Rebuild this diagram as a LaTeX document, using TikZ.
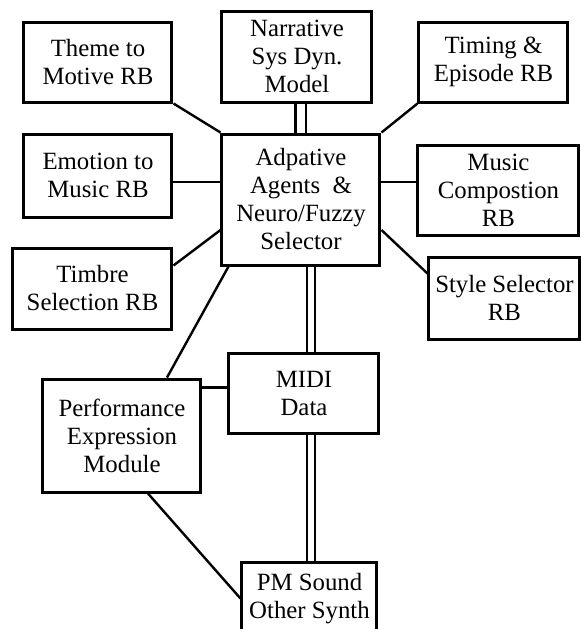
\documentclass[tikz,border=0pt]{standalone}
\usepackage{fontspec}
\setmainfont{Liberation Serif}
\begin{document}
\begin{tikzpicture}[
        x=0.5pt, y=-0.5pt,
        block/.style={rectangle, draw, line width=1.5pt, align=center, inner sep=0pt, font=\fontsize{12.4}{14}\selectfont},
        link/.style={line width=1.2pt},
        bus/.style={double, double distance=2.8pt, line width=1.1pt}
    ]
        \clip (0,0) rectangle (581,629);

        \node[block, minimum width=74pt, minimum height=40pt] (theme) at (98,62) {Theme to\\Motive RB};
        \node[block, minimum width=75pt, minimum height=45.5pt] (narrative) at (297,56.5) {Narrative\\Sys Dyn.\\Model};
        \node[block, minimum width=74.5pt, minimum height=40pt] (timing) at (493.5,62) {Timing \&\\Episode RB};
        \node[block, minimum width=79pt, minimum height=65.5pt] (agents) at (301,199.5) {Adpative\\Agents\ \ \&\\Neuro/Fuzzy\\Selector};
        \node[block, minimum width=74pt, minimum height=41.5pt] (emotion) at (98,175.5) {Emotion to\\Music RB};
        \node[block, minimum width=80.5pt, minimum height=45pt] (music) at (498.5,190) {Music\\Compostion\\RB};
        \node[block, minimum width=79.5pt, minimum height=40.5pt] (timbre) at (92.5,288.5) {Timbre\\Selection RB};
        \node[block, minimum width=75.5pt, minimum height=41pt] (style) at (504.5,298) {Style Selector\\RB};
        \node[block, minimum width=79pt, minimum height=56.5pt] (perf) at (122,435.5) {Performance\\Expression\\Module};
        \node[block, minimum width=75pt, minimum height=40pt] (midi) at (304,393) {MIDI\\Data};
        \node[block, minimum width=67.5pt, minimum height=36pt, anchor=north] (pm) at (309.5,561) {PM Sound\\Other Synth};

        \draw[link] (theme.south east) -- (agents.north west);
        \draw[link] ([yshift=8.75pt]agents.west) -- ([yshift=8.75pt]agents.west -| emotion.east);
        \draw[link] ([yshift=-15.25pt]agents.west) -- ([yshift=-9.5pt]timbre.north east);
        \draw[bus, double distance=4.3pt] (agents.north) -- (agents.north |- narrative.south);
        \draw[link] (timing.south west) -- (agents.north east);
        \draw[link] ([yshift=8.75pt]agents.east) -- ([yshift=8.75pt]agents.east -| music.west);
        \draw[link] ([yshift=-15.25pt]agents.east) -- ([yshift=-9pt]style.north west);
        \draw[bus] ([xshift=5pt]agents.south) -- ([xshift=5pt]agents.south |- midi.north);
        \draw[bus] ([xshift=3.5pt]midi.south) -- ([xshift=3.5pt]midi.south |- pm.north);
        \draw[link] ([xshift=4pt]agents.south west) -- ([xshift=22.5pt]perf.north);
        \draw[link] ([yshift=-5pt]perf.north east) -- ([yshift=-5pt]perf.north east -| midi.west);
        \draw[link] ([xshift=13pt]perf.south) -- (pm.west);
    \end{tikzpicture}
\end{document}
